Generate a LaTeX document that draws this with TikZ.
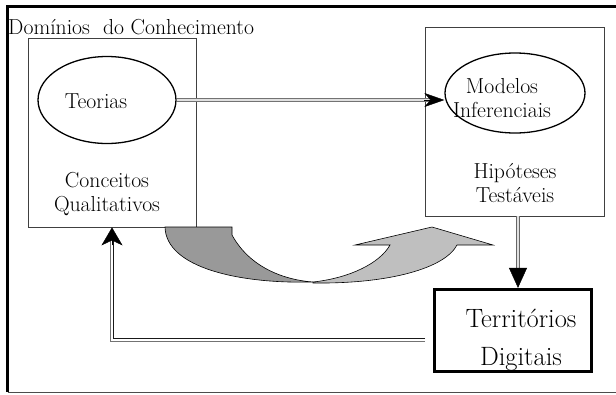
\documentclass[tikz,border=0pt]{standalone}
\usepackage{tikz}
\usetikzlibrary{shapes.geometric,arrows.meta}

\tikzset{
  txt/.style={font=\fontsize{21.7}{24}\selectfont,align=center,inner sep=0pt},
  caixa/.style={rectangle,draw=black!75,line width=0.8pt,inner sep=0pt},
  elipse/.style={ellipse,draw,line width=1.3pt,inner sep=0pt},
  borda/.style={line width=0.8pt,draw=#1},
  miolo/.style={line width=2pt,draw=#1},
  ponta/.style={draw=black,line width=0.4pt},
}

\begin{document}
\begin{tikzpicture}[x=1pt,y=-1pt]
\useasboundingbox (0,0) rectangle (616,394);
\begin{scope}
% moldura
\draw[line width=3pt] (7.5,392) -- (7.5,6) -- (616,6);
\draw[draw=black!70,line width=0.8pt] (7.5,392) -- (616,392);
\node (DOM) at (8,34) [txt,anchor=base west] {Domínios\ \ do Conhecimento};
% caixas
\node (BCQ) at (112,132.5) [caixa,minimum width=168,minimum height=189] {};
\node (BHT) at (514.5,121.5) [caixa,minimum width=179,minimum height=189] {};
\node (BTD) at (513,330.5) [rectangle,draw,line width=3.2pt,minimum width=157,minimum height=82] {};
% elipses
\node (TEO) at (107,100) [elipse,minimum width=138,minimum height=87] {};
\node (MOD) at (515,93) [elipse,minimum width=140,minimum height=80] {};
% textos
\node (T) at (96,101) [txt] {Teorias};
\node (MI) at (502,98) [txt] {Modelos\\Inferenciais};
\node (CQ) at (107,194) [txt] {Conceitos\\Qualitativos};
\node (HT) at (515,183) [txt] {Hipóteses\\Testáveis};
\node (TD) at (521,340) [txt,font=\fontsize{26.5}{38}\selectfont] {Territórios\\Digitais};
% setas (linhas duplas)
\coordinate (R) at (425,340);
\coordinate (PM) at (TEO.east -| MOD.west);
\coordinate (PT) at ([xshift=3.5pt]BHT.south |- BTD.north);
\draw[miolo=black!12] (TEO.east) -- ([xshift=-14pt]PM);
\draw[borda=black!55] ([yshift=1.5pt]TEO.east) -- ([xshift=-14pt,yshift=1.5pt]PM);
\draw[borda=black!55] ([yshift=-1.5pt]TEO.east) -- ([xshift=-14pt,yshift=-1.5pt]PM);
\draw[ponta,-{Stealth[length=20pt,width=14pt,inset=6pt]}] ([xshift=-20pt]PM) -- (PM);
\draw[miolo=black!12] ([xshift=3.5pt]BHT.south) -- ([yshift=19pt]PT);
\draw[borda=black!60] ([xshift=1.7pt]BHT.south) -- ([xshift=-1.8pt,yshift=19pt]PT);
\draw[borda=black!60] ([xshift=5.3pt]BHT.south) -- ([xshift=1.8pt,yshift=19pt]PT);
\draw[ponta,-{Triangle[length=20pt,width=18pt]}] ([yshift=20pt]PT) -- (PT);
\draw[borda=black!90] ([yshift=1.3pt]R) -| ([xshift=1.3pt,yshift=-13pt]BCQ.south);
\draw[borda=black!55] ([yshift=-1.3pt]R) -| ([xshift=-1.3pt,yshift=-13pt]BCQ.south);
\draw[ponta,-{Stealth[length=18pt,width=21pt,inset=5pt]}] ([yshift=-18pt]BCQ.south) -- (BCQ.south);
% seta curva
\draw[fill=black!40,line width=0.6pt] (165,227) -- (232,227) -- (232,235)
  .. controls (250,268) and (285,280) .. (313,282)
  .. controls (240,284) and (166,268) .. cycle;
\draw[fill=black!25,line width=0.6pt] (313,282)
  .. controls (350,278) and (380,263) .. (390,245)
  -- (355,245) -- (432,227) -- (493,245) -- (457,245)
  .. controls (445,268) and (390,284) .. (313,283) -- cycle;
\end{scope}
\end{tikzpicture}
\end{document}
